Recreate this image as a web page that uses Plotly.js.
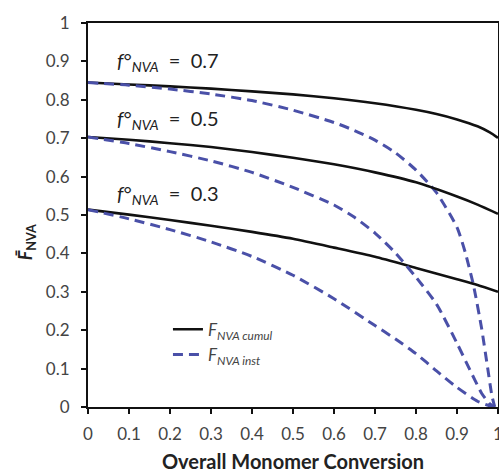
<!DOCTYPE html>
<html>
<head>
<meta charset="utf-8">
<script src="https://cdn.plot.ly/plotly-3.0.1.min.js"></script>
<style>
  html, body { margin: 0; padding: 0; background: #fff; overflow: hidden; }
  #chart { width: 499px; height: 473px; }
</style>
</head>
<body>
<div id="chart"></div>
<script>
// Overall monomer conversion (x) for each curve
const convCumul07 = [0, 0.1, 0.2, 0.3, 0.4, 0.5, 0.6, 0.7, 0.8, 0.85, 0.9, 0.95, 0.98, 1.0];
const cumul07     = [0.845, 0.840, 0.835, 0.829, 0.822, 0.814, 0.804, 0.791, 0.774, 0.763, 0.749, 0.731, 0.715, 0.701];

const convCumul05 = [0, 0.1, 0.2, 0.3, 0.4, 0.5, 0.6, 0.7, 0.8, 0.9, 0.95, 1.0];
const cumul05     = [0.703, 0.696, 0.687, 0.677, 0.664, 0.649, 0.632, 0.611, 0.585, 0.548, 0.527, 0.503];

const convCumul03 = [0, 0.1, 0.2, 0.3, 0.4, 0.5, 0.6, 0.7, 0.8, 0.9, 0.95, 1.0];
const cumul03     = [0.514, 0.501, 0.487, 0.472, 0.456, 0.438, 0.415, 0.391, 0.362, 0.333, 0.318, 0.300];

const convInst07 = [0, 0.1, 0.2, 0.3, 0.4, 0.5, 0.6, 0.65, 0.7, 0.75, 0.8, 0.85, 0.9, 0.92, 0.94, 0.96, 0.975, 0.985, 0.992];
const inst07     = [0.845, 0.838, 0.828, 0.815, 0.798, 0.773, 0.741, 0.720, 0.695, 0.662, 0.617, 0.558, 0.468, 0.403, 0.318, 0.205, 0.100, 0.030, 0.0];

const convInst05 = [0, 0.1, 0.2, 0.3, 0.4, 0.5, 0.6, 0.65, 0.7, 0.75, 0.8, 0.85, 0.9, 0.93, 0.96, 0.98, 0.99];
const inst05     = [0.703, 0.686, 0.665, 0.641, 0.611, 0.572, 0.526, 0.494, 0.453, 0.401, 0.338, 0.268, 0.166, 0.100, 0.036, 0.008, 0.0];

const convInst03 = [0, 0.1, 0.2, 0.3, 0.4, 0.5, 0.6, 0.7, 0.75, 0.8, 0.85, 0.9, 0.95, 0.98, 0.99];
const inst03     = [0.514, 0.490, 0.462, 0.430, 0.392, 0.343, 0.282, 0.212, 0.177, 0.139, 0.094, 0.051, 0.015, 0.003, 0.0];

const feedLabels = ['0.7', '0.5', '0.3'];
const feedLabelY = [0.90, 0.748, 0.553];

const cumulName = '<i>F</i><sub><i>NVA cumul</i></sub>';
const instName  = '<i>F</i><sub><i>NVA inst</i></sub>';

const black = '#111111';
const blue = '#4a50a8';

function cumulTrace(x, y, show) {
  return {
    x: x, y: y, type: 'scatter', mode: 'lines',
    line: { color: black, width: 2.6, shape: 'spline', smoothing: 0.6 },
    name: cumulName, legendgroup: 'cumul', showlegend: show, hoverinfo: 'skip'
  };
}
function instTrace(x, y, show) {
  return {
    x: x, y: y, type: 'scatter', mode: 'lines',
    line: { color: blue, width: 3, dash: '10px,6px', shape: 'spline', smoothing: 0.6 },
    name: instName, legendgroup: 'inst', showlegend: show, hoverinfo: 'skip'
  };
}

const data = [
  cumulTrace(convCumul07, cumul07, true),
  instTrace(convInst07, inst07, true),
  cumulTrace(convCumul05, cumul05, false),
  cumulTrace(convCumul03, cumul03, false),
  instTrace(convInst05, inst05, false),
  instTrace(convInst03, inst03, false)
];

const font = { family: 'Lato, "Open Sans", sans-serif', color: '#3a3a3a' };

const annotations = feedLabels.map((v, i) => ({
  xref: 'x', yref: 'y', x: 0.065, y: feedLabelY[i],
  xanchor: 'left', yanchor: 'middle', showarrow: false,
  text: '<i>f</i>°<sub><i>NVA</i></sub>  =  ' + v,
  font: { family: font.family, size: 20, color: '#222' }
}));

annotations.push({
  xref: 'paper', yref: 'paper', x: -0.148, y: 0.43,
  xanchor: 'center', yanchor: 'middle', showarrow: false, textangle: -90,
  text: '<b><i>F\u0304</i><sub>NVA</sub></b>',
  font: { family: font.family, size: 18, color: '#222' }
});

const axisCommon = {
  range: [0, 1], dtick: 0.1, tick0: 0,
  showgrid: false, zeroline: false,
  showline: true, linecolor: '#111', linewidth: 2, mirror: true,
  ticks: 'outside', ticklen: 5, tickwidth: 2, tickcolor: '#111',
  tickfont: { family: font.family, size: 17, color: '#444' },
  ticklabeloverflow: 'allow',
  fixedrange: true
};

const layout = {
  width: 499, height: 473,
  margin: { l: 88, r: 1, t: 23, b: 66 },
  paper_bgcolor: '#fff', plot_bgcolor: '#fff',
  font: font,
  showlegend: true,
  legend: {
    x: 0.195, y: 0.248, xanchor: 'left', yanchor: 'top',
    bgcolor: 'rgba(0,0,0,0)', tracegroupgap: 0,
    font: { family: font.family, size: 17, color: '#444' }
  },
  xaxis: Object.assign({}, axisCommon, {
    ticklabelstandoff: 6,
    title: { text: '<b>Overall Monomer Conversion</b>', font: { family: font.family, size: 20, color: '#222' }, standoff: 12 }
  }),
  yaxis: Object.assign({}, axisCommon, { ticklabelstandoff: 8 }),
  annotations: annotations
};

Plotly.newPlot('chart', data, layout, { displayModeBar: false, staticPlot: true });
</script>
</body>
</html>
